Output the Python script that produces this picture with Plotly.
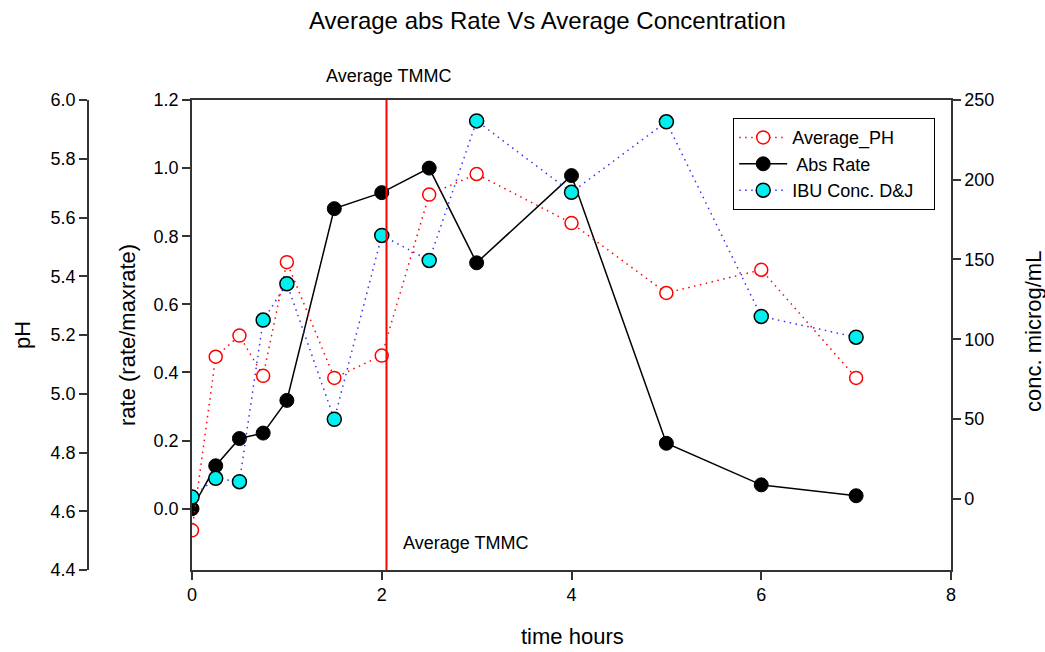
import plotly.graph_objects as go

# ---- data ----
time_hours = [0, 0.25, 0.5, 0.75, 1, 1.5, 2, 2.5, 3, 4, 5, 6, 7]
average_ph = [4.535, 5.126, 5.198, 5.061, 5.448, 5.054, 5.130, 5.678, 5.748, 5.581, 5.343, 5.422, 5.054]
abs_rate = [0.0, 0.126, 0.206, 0.222, 0.318, 0.881, 0.928, 1.0, 0.722, 0.978, 0.192, 0.070, 0.038]
ibu_conc = [1, 12.8, 10.7, 112, 134.8, 49.8, 165.1, 149.4, 236.9, 192.1, 236.3, 114.3, 101.3]
tmmc_time = 2.05

x_ticks = [0, 2, 4, 6, 8]
rate_ticks = [0.0, 0.2, 0.4, 0.6, 0.8, 1.0, 1.2]
ph_ticks = [4.4, 4.6, 4.8, 5.0, 5.2, 5.4, 5.6, 5.8, 6.0]
conc_ticks = [0, 50, 100, 150, 200, 250]

W, H = 1045, 652
FONT = "Arial, 'Liberation Sans', sans-serif"
AX = "#333333"

def px(x):
    return x / W

def py(y):
    return 1 - y / H

xdom = [px(192), px(951)]
ydom = [py(570), py(100)]

fig = go.Figure()

fig.add_trace(go.Scatter(
    x=time_hours, y=average_ph, name="Average_PH", yaxis="y2",
    mode="lines+markers",
    line=dict(color="red", width=1.5, dash="1.5px,4.5px"),
    marker=dict(symbol="circle", size=13, color="white", line=dict(color="red", width=1.5)),
))
fig.add_trace(go.Scatter(
    x=time_hours, y=abs_rate, name=" Abs Rate", yaxis="y",
    mode="lines+markers",
    line=dict(color="black", width=1.5),
    marker=dict(symbol="circle", size=14, color="black", line=dict(color="black", width=1)),
))
fig.add_trace(go.Scatter(
    x=time_hours, y=ibu_conc, name="IBU Conc. D&J\u00a0\u00a0\u00a0", yaxis="y3",
    mode="lines+markers",
    line=dict(color="#3333ff", width=1.5, dash="1.5px,4.5px"),
    marker=dict(symbol="circle", size=14, color="#00f0f0", line=dict(color="black", width=1.5)),
))

common = dict(showgrid=False, zeroline=False, showline=True, linecolor=AX, linewidth=1.5,
              ticks="outside", tickcolor=AX, tickwidth=1.5, ticklen=8,
              tickfont=dict(family=FONT, size=18, color="black"))

fig.update_layout(
    width=W, height=H,
    margin=dict(l=0, r=0, t=0, b=0),
    paper_bgcolor="white", plot_bgcolor="white",
    font=dict(family=FONT, size=18, color="black"),
    showlegend=True,
    legend=dict(x=px(733), y=py(118), xanchor="left", yanchor="top",
                bgcolor="white", bordercolor="black", borderwidth=1.2,
                font=dict(family=FONT, size=18, color="black"),
                itemwidth=48, tracegroupgap=0),
    xaxis=dict(domain=xdom, range=[0, 8], tickvals=x_ticks, mirror=True,
               automargin=False, **common),
    yaxis=dict(domain=ydom, range=[-0.18, 1.2], tickvals=rate_ticks,
               ticktext=[f"{v:.1f}" for v in rate_ticks], anchor="x", side="left",
               automargin=False, **common),
    yaxis2=dict(overlaying="y", anchor="free", position=px(88), side="left",
                range=[4.4, 6.0], tickvals=ph_ticks,
                ticktext=[f"{v:.1f}" for v in ph_ticks], automargin=False, **common),
    yaxis3=dict(overlaying="y", anchor="x", side="right",
                range=[-44.7, 250], tickvals=conc_ticks,
                ticktext=[str(v) for v in conc_ticks], automargin=False, **common),
)

fig.add_shape(type="line", xref="x", yref="y domain", x0=tmmc_time, x1=tmmc_time,
              y0=0, y1=1, line=dict(color="red", width=2), layer="above")

def ann(text, x, y, size=18, angle=0):
    fig.add_annotation(text=text, x=px(x), y=py(y), xref="paper", yref="paper",
                       showarrow=False, textangle=angle, xanchor="center", yanchor="middle",
                       font=dict(family=FONT, size=size, color="black"))

ann("Average abs Rate Vs Average Concentration", 547.5, 20, size=24)
ann("Average TMMC", 388.5, 76, size=18)
ann("Average TMMC", 465, 543, size=18)
ann("time hours", 572, 636, size=22)
ann("pH", 22, 335, size=22, angle=-90)
ann("rate (rate/maxrate)", 127, 335, size=22, angle=-90)
ann("conc. microg/mL", 1034, 332, size=22, angle=-90)

fig.write_html("out.html")
